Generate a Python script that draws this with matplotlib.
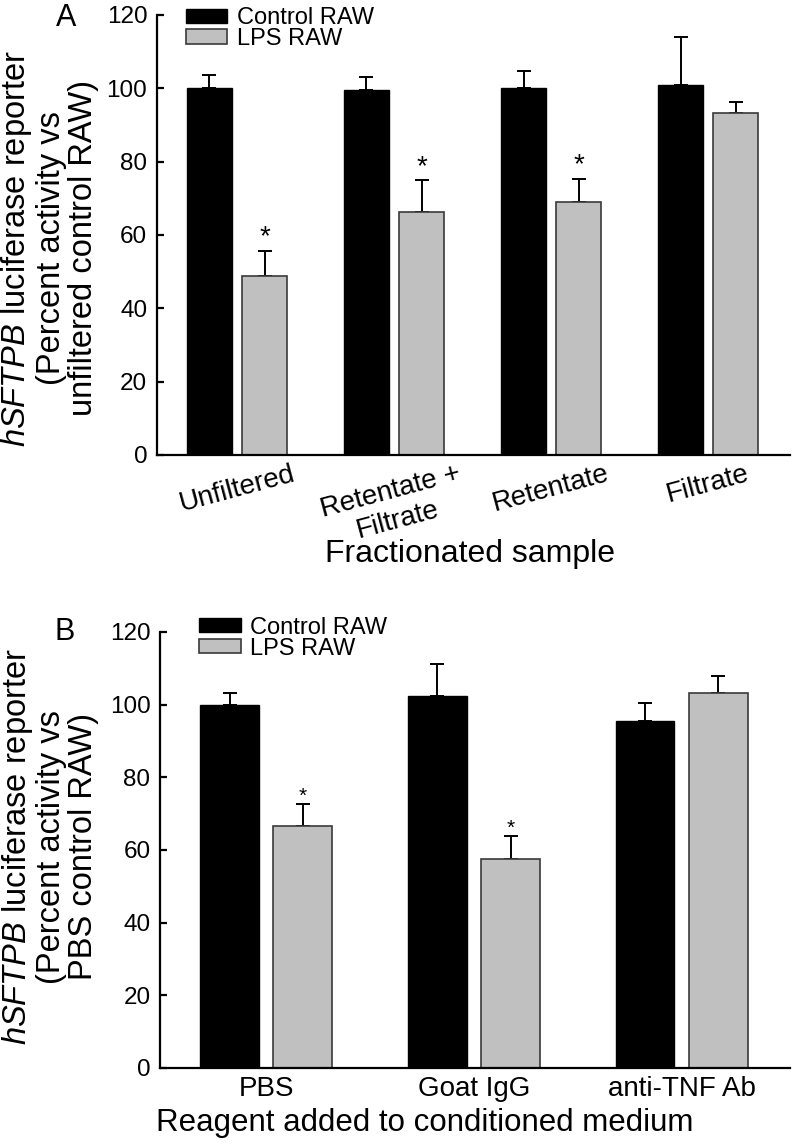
import numpy as np
import matplotlib
matplotlib.use('Agg')
import matplotlib.pyplot as plt

plt.rcParams['font.family'] = ['Liberation Sans', 'DejaVu Sans']
plt.rcParams['mathtext.fontset'] = 'custom'
plt.rcParams['mathtext.rm'] = 'Liberation Sans'
plt.rcParams['mathtext.it'] = 'Liberation Sans:italic'

# panel A data
groups_a = ['Unfiltered', 'Retentate +\nFiltrate', 'Retentate', 'Filtrate']
control_a = [100.0, 99.5, 100.0, 100.8]
control_a_err = [3.6, 3.5, 4.7, 13.1]
lps_a = [48.8, 66.2, 68.9, 93.4]
lps_a_err = [6.9, 8.8, 6.5, 3.0]
sig_a = [True, True, True, False]

# panel B data
groups_b = ['PBS', 'Goat IgG', 'anti-TNF Ab']
control_b = [100.0, 102.4, 95.6]
control_b_err = [3.1, 8.8, 4.8]
lps_b = [66.7, 57.6, 103.1]
lps_b_err = [6.0, 6.2, 4.9]
sig_b = [True, True, False]

yticks = [0, 20, 40, 60, 80, 100, 120]
gray = '#c0c0c0'


def draw_panel(ax, groups, ctrl, ctrl_err, lps, lps_err, sig, width, star_size, star_off):
    x = np.arange(len(groups))
    off = 0.176
    ax.bar(x - off, ctrl, width, color='black', edgecolor='black', linewidth=1,
           label='Control RAW', zorder=2)
    ax.bar(x + off, lps, width, color=gray, edgecolor='#3a3a3a', linewidth=1.2,
           label='LPS RAW', zorder=2)
    ax.errorbar(x - off, ctrl, yerr=[np.zeros(len(x)), ctrl_err], fmt='none',
                ecolor='black', elinewidth=1.4, capsize=4.8, capthick=1.4, zorder=1)
    ax.errorbar(x + off, lps, yerr=[np.zeros(len(x)), lps_err], fmt='none',
                ecolor='black', elinewidth=1.4, capsize=4.8, capthick=1.4, zorder=1)
    for i, s in enumerate(sig):
        if s:
            ax.annotate('*', (x[i] + off, lps[i] + lps_err[i]), xytext=(0, star_off),
                        textcoords='offset points', ha='center', va='baseline',
                        fontsize=star_size)
    ax.set_ylim(0, 120)
    ax.set_yticks(yticks)
    ax.set_xlim(-0.51, len(groups) - 0.48)
    ax.set_xticks(x)
    ax.spines['top'].set_visible(False)
    ax.spines['right'].set_visible(False)
    ax.spines['left'].set_linewidth(1.6)
    ax.spines['bottom'].set_linewidth(1.6)
    ax.tick_params(axis='y', direction='in', length=5, width=1.6, pad=7, labelsize=17.5)


fig = plt.figure(figsize=(7.93, 11.44), dpi=100)
ax_a = fig.add_axes([0.198, 0.6023, 0.798, 0.3846])
ax_b = fig.add_axes([0.202, 0.0665, 0.794, 0.3811])

leg_kw = dict(loc='upper left', frameon=False, fontsize=17, handlelength=1.75,
              handleheight=0.55, labelspacing=-0.05, handletextpad=0.4,
              borderaxespad=0, borderpad=0)

draw_panel(ax_a, groups_a, control_a, control_a_err, lps_a, lps_a_err, sig_a, 0.287, 20, 4.5)
ax_a.set_xticklabels(groups_a, rotation=15, ha='center', fontsize=20, multialignment='center')
ax_a.tick_params(axis='x', length=0, pad=4)
ax_a.set_xlabel('Fractionated sample', fontsize=23)
ax_a.xaxis.set_label_coords(0.495, -0.19)
ax_a.set_ylabel(r'$\it{hSFTPB}$ luciferase reporter' + '\n(Percent activity vs\nunfiltered control RAW)',
                fontsize=23.5, linespacing=1.05)
ax_a.yaxis.set_label_coords(-0.092, 0.47)
ax_a.legend(bbox_to_anchor=(0.046, 1.018), **leg_kw)
fig.text(0.084, 0.9847, 'A', fontsize=22, ha='center', va='center')

draw_panel(ax_b, groups_b, control_b, control_b_err, lps_b, lps_b_err, sig_b, 0.282, 15, 1.5)
ax_b.set_xticklabels(groups_b, fontsize=20)
ax_b.tick_params(axis='x', length=0, pad=6)
ax_b.set_xlabel('Reagent added to conditioned medium', fontsize=22.5)
ax_b.xaxis.set_label_coords(0.42, -0.092)
ax_b.set_ylabel(r'$\it{hSFTPB}$ luciferase reporter' + '\n(Percent activity vs\nPBS control RAW)',
                fontsize=23.5, linespacing=1.05)
ax_b.yaxis.set_label_coords(-0.097, 0.507)
ax_b.legend(bbox_to_anchor=(0.062, 1.035), **leg_kw)
fig.text(0.082, 0.4476, 'B', fontsize=22, ha='center', va='center')

fig.savefig('out.png', dpi=100)
